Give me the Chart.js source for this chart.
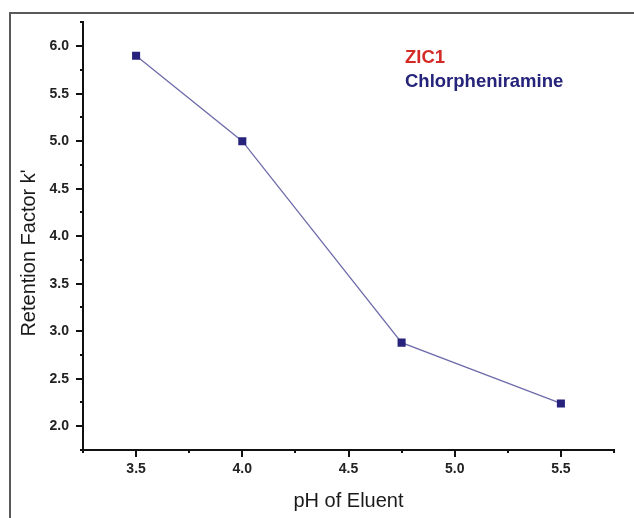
<!DOCTYPE html>
<html>
<head>
<meta charset="utf-8">
<script src="https://cdn.jsdelivr.net/npm/chart.js@4"></script>
<style>
    html, body { margin: 0; padding: 0; background: #fff; }
    #wrap { width: 634px; height: 518px; }
</style>
</head>
<body>
<div id="wrap"><canvas id="phChart" width="634" height="518"></canvas></div>
<script>
// pH of eluent vs retention factor (ZIC1, chlorpheniramine)
const phValues = [3.5, 4.0, 4.75, 5.5];
const kValues = [5.9, 5.0, 2.88, 2.24];
const legendLines = ['ZIC1', 'Chlorpheniramine'];
const xTitle = 'pH of Eluent';
const yTitle = 'Retention Factor k\u02B9';

const isMajor = v => Math.abs(v * 2 - Math.round(v * 2)) < 1e-6;

// frame, minor/major tick marks, titles and the text legend
const decorPlugin = {
    id: 'decor',
    beforeDraw(chart) {
        const ctx = chart.ctx;
        ctx.save();
        ctx.strokeStyle = '#5a5a5a';
        ctx.lineWidth = 2;
        ctx.strokeRect(10, 13, 700, 600);
        ctx.restore();
    },
    afterDraw(chart) {
        const ctx = chart.ctx;
        const area = chart.chartArea;
        const xs = chart.scales.x;
        const ys = chart.scales.y;
        ctx.save();
        ctx.strokeStyle = '#111';
        ctx.lineWidth = 2;
        xs.ticks.forEach(t => {
            const px = Math.round(xs.getPixelForValue(t.value));
            const len = isMajor(t.value) ? 7 : 3;
            ctx.beginPath();
            ctx.moveTo(px, area.bottom);
            ctx.lineTo(px, area.bottom + len);
            ctx.stroke();
        });
        ys.ticks.forEach(t => {
            const py = Math.round(ys.getPixelForValue(t.value));
            const len = isMajor(t.value) ? 7 : 3;
            ctx.beginPath();
            ctx.moveTo(area.left, py);
            ctx.lineTo(area.left - len, py);
            ctx.stroke();
        });

        // axis titles
        ctx.fillStyle = '#1a1a1a';
        ctx.font = '20px "Liberation Sans", Arial, sans-serif';
        ctx.textAlign = 'center';
        ctx.textBaseline = 'alphabetic';
        ctx.fillText(xTitle, (area.left + area.right) / 2, 507);
        ctx.save();
        ctx.translate(35, 253);
        ctx.rotate(-Math.PI / 2);
        ctx.fillText(yTitle, 0, 0);
        ctx.restore();

        // legend text
        ctx.textAlign = 'left';
        ctx.font = 'bold 18.5px "Liberation Sans", Arial, sans-serif';
        ctx.fillStyle = '#d42a26';
        ctx.fillText(legendLines[0], 405, 63);
        ctx.fillStyle = '#25237a';
        ctx.fillText(legendLines[1], 405, 87);
        ctx.restore();
    }
};

const tickFont = { family: '"Liberation Sans", Arial, sans-serif', size: 14, weight: 'bold' };

new Chart(document.getElementById('phChart'), {
    type: 'scatter',
    data: {
        datasets: [{
            label: 'Chlorpheniramine',
            data: phValues.map((ph, i) => ({ x: ph, y: kValues[i] })),
            showLine: true,
            borderColor: '#6e6cab',
            borderWidth: 1.3,
            backgroundColor: '#27237c',
            pointStyle: 'rect',
            pointRadius: 5.7,
            pointBorderWidth: 0,
            pointBackgroundColor: '#27237c'
        }]
    },
    plugins: [decorPlugin],
    options: {
        responsive: false,
        animation: false,
        layout: { padding: { left: 0, top: 22, right: 20, bottom: 0 } },
        plugins: {
            legend: { display: false },
            tooltip: { enabled: false }
        },
        scales: {
            x: {
                type: 'linear',
                min: 3.25,
                max: 5.75,
                grid: { display: false, drawTicks: false },
                border: { display: true, color: '#111', width: 2 },
                ticks: {
                    stepSize: 0.25,
                    autoSkip: false,
                    maxRotation: 0,
                    padding: 11,
                    color: '#222',
                    font: tickFont,
                    callback: v => isMajor(v) ? v.toFixed(1) : ''
                },
                afterFit: s => { s.height = 68; }
            },
            y: {
                min: 1.75,
                max: 6.25,
                grid: { display: false, drawTicks: false },
                border: { display: true, color: '#111', width: 2 },
                ticks: {
                    stepSize: 0.25,
                    autoSkip: false,
                    padding: 14,
                    color: '#222',
                    font: tickFont,
                    callback: v => isMajor(v) ? v.toFixed(1) : ''
                },
                afterFit: s => { s.width = 83; }
            }
        }
    }
});
</script>
</body>
</html>
